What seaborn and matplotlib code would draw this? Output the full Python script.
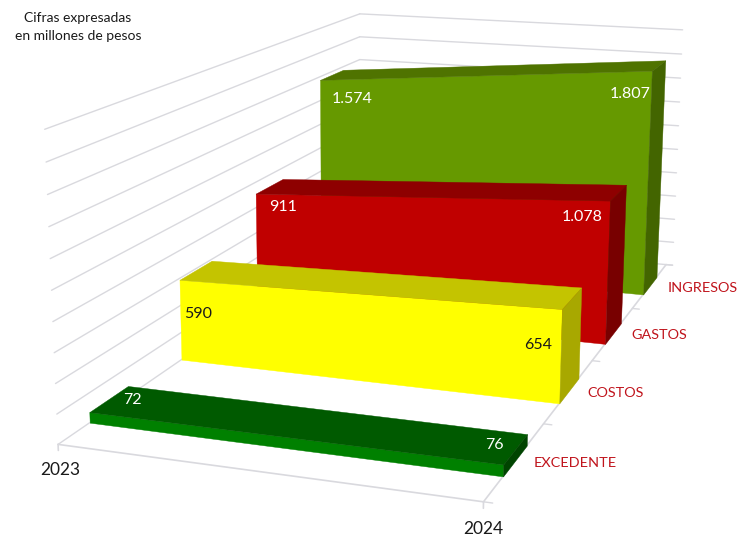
import matplotlib
matplotlib.use("Agg")
import matplotlib.pyplot as plt
import seaborn as sns
from mpl_toolkits.mplot3d import proj3d
from mpl_toolkits.mplot3d.art3d import Poly3DCollection

# -------------------------------
# Data
# -------------------------------
years = ["2023", "2024"]
series = ["EXCEDENTE", "COSTOS", "GASTOS", "INGRESOS"]
excedente = [72, 76]
costos = [590, 654]
gastos = [911, 1078]
ingresos = [1574, 1807]
value_labels = [["72", "76"], ["590", "654"], ["911", "1.078"], ["1.574", "1.807"]]
z_ticks = [0, 200, 400, 600, 800, 1000, 1200, 1400, 1600, 1800, 2000]

# front, top and side colours for each series
front_colors = ["#008000", "#FFFF00", "#C00000", "#669900"]
top_colors = ["#005A00", "#C4C400", "#8E0000", "#4F7300"]
side_colors = ["#004400", "#A8A800", "#780000", "#436500"]
label_colors = ["white", "#1A1A1A", "white", "white"]

# label offsets from the front top corners, in pixels (left x, left y, right x, right y)
offsets = [(34, 12, 0, 19), (5, -34, -10, -36), (13, -13, -7, -16), (12, -19, -1, -23)]

sns.set_theme(style="white")
plt.rcParams["font.family"] = ["Lato", "DejaVu Sans"]

fig = plt.figure(figsize=(7.4, 5.36), dpi=100)
S = 1510
ax = fig.add_axes([-393.78 / 740, -473.68 / 536, S / 740, S / 536], projection="3d", computed_zorder=False)

ax.set_box_aspect((1, 1, 1))
ax.set_proj_type("persp", focal_length=0.229)
ax.view_init(elev=14.32, azim=-70.787, roll=-0.164)
ax.set_axis_off()
ax.patch.set_alpha(0)

grid = "#D9D9DE"
lines = []
# walls
for z in z_ticks:
    lines += ax.plot([0, 0], [0, 4], [z, z], color=grid, lw=1, zorder=1)
    lines += ax.plot([0, 1.02], [4, 4], [z, z], color=grid, lw=1, zorder=1)
# floor edges and ticks
lines += ax.plot([0, 1], [0, 0], [0, 0], color=grid, lw=1.2, zorder=1)
lines += ax.plot([1, 1], [0, 4], [0, 0], color=grid, lw=1.2, zorder=1)
for d in range(5):
    lines += ax.plot([1, 1.02], [d, d], [0, 0], color=grid, lw=1, zorder=1)
for x in [0, 1]:
    lines += ax.plot([x, x], [0, 0], [0, -40], color=grid, lw=1.2, zorder=1)
for line in lines:
    line.set_clip_on(False)

gap = 0.302
all_values = [excedente, costos, gastos, ingresos]
for i in range(3, -1, -1):
    v = all_values[i]
    d0, d1 = i + gap, i + 1 - gap
    front = [(0, d0, 0), (1, d0, 0), (1, d0, v[1]), (0, d0, v[0])]
    top = [(0, d0, v[0]), (1, d0, v[1]), (1, d1, v[1]), (0, d1, v[0])]
    side = [(1, d0, 0), (1, d1, 0), (1, d1, v[1]), (1, d0, v[1])]
    z = 10 + (3 - i) * 5
    for poly, col, k in [(front, front_colors[i], 0), (top, top_colors[i], 1), (side, side_colors[i], 2)]:
        coll = Poly3DCollection([poly], facecolor=col, edgecolor=col, linewidth=0.3, zorder=z + k)
        ax.add_collection3d(coll)
        coll.set_clip_on(False)

ax.set_xlim(0.4468 - 1.16821, 0.4468 + 1.16821, view_margin=0)
ax.set_ylim(1.86887 - 2.33306, 1.86887 + 2.33306, view_margin=0)
ax.set_zlim(839.74 - 3224.24, 839.74 + 3224.24, view_margin=0)


def label(x, y, z, s, dx, dy, **kw):
    # place a text next to a 3d point, offset in pixels
    px, py, _ = proj3d.proj_transform(x, y, z, ax.get_proj())
    ax.annotate(s, (px, py), xytext=(dx, dy), textcoords="offset pixels", va="center",
                annotation_clip=False, zorder=50, **kw)


for i, v in enumerate(all_values):
    lx, ly, rx, ry = offsets[i]
    d0 = i + gap
    label(0, d0, v[0], value_labels[i][0], lx, ly, color=label_colors[i], fontsize=11.5, ha="left")
    label(1, d0, v[1], value_labels[i][1], rx, ry, color=label_colors[i], fontsize=11.5, ha="right")

# category labels
label(0, 0, 0, years[0], 2, -26, color="#1A1A1A", fontsize=12.5, ha="center")
label(1, 0, 0, years[1], 0, -27, color="#1A1A1A", fontsize=12.5, ha="center")
for i, name in enumerate(series):
    label(1, i + 0.5, 0, name, 18, -2, color="#C0141C", fontsize=10.4, ha="left")

fig.text(78 / 740, 1 - 18 / 536, "Cifras expresadas", color="#1A1A1A", fontsize=10, ha="center", va="center")
fig.text(78 / 740, 1 - 36 / 536, "en millones de pesos", color="#1A1A1A", fontsize=10, ha="center", va="center")

fig.savefig("out.png", dpi=100)
